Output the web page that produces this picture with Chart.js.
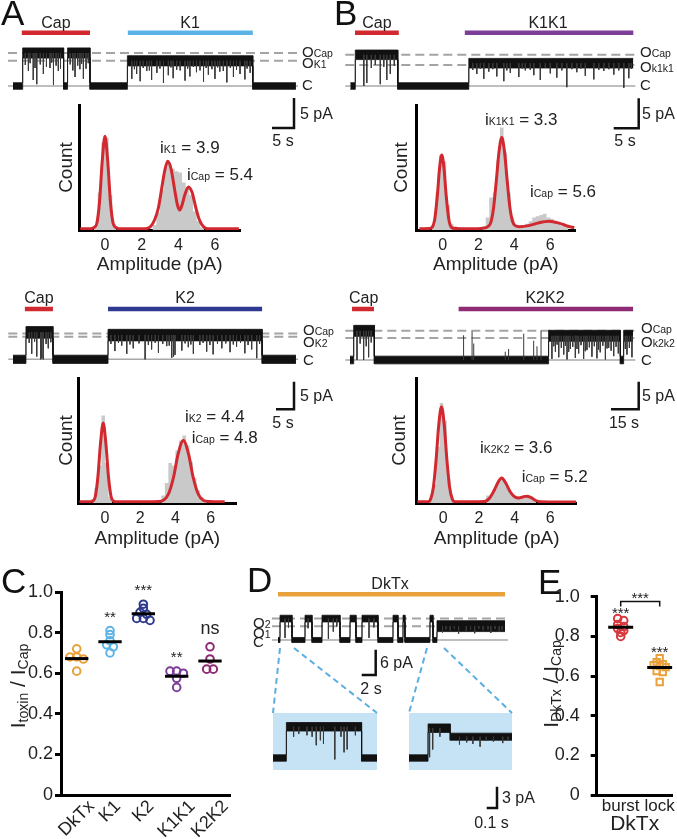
<!DOCTYPE html>
<html><head><meta charset="utf-8">
<script src="https://cdn.jsdelivr.net/npm/chart.js@4.4.1/dist/chart.umd.min.js"></script>
<style>
html,body{margin:0;padding:0;background:#fff;}
#fig{position:relative;width:677px;height:839px;overflow:hidden;font-family:"Liberation Sans",Arial,sans-serif;}
#fig canvas{position:absolute;}
#ov{position:absolute;left:0;top:0;}
.inset{position:absolute;background:#c6e3f5;}
</style></head><body>
<div id="fig">
<div class="inset" style="left:273px;top:713px;width:104px;height:57px"></div>
<div class="inset" style="left:409px;top:713px;width:103px;height:57px"></div>
<svg id="ov" width="677" height="839" font-family="Liberation Sans, Arial, sans-serif" fill="#222">
<g font-size="35" fill="#111">
<text x="1" y="25">A</text><text x="334" y="25">B</text>
<text x="1" y="593">C</text><text x="247" y="592">D</text><text x="538" y="594">E</text>
</g>
<g font-size="16" text-anchor="middle">
<text x="56" y="27.5">Cap</text><text x="190" y="27.5">K1</text>
<text x="377" y="27.5">Cap</text><text x="548" y="27.5">K1K1</text>
<text x="39" y="302.5">Cap</text><text x="185" y="302.5">K2</text>
<text x="363.7" y="302.5">Cap</text><text x="545" y="302.5">K2K2</text>
<text x="390" y="588.7">DkTx</text>
<text x="283" y="146">5 s</text><text x="625" y="146">5 s</text>
<text x="283" y="427.5">5 s</text><text x="624" y="427.5">15 s</text>
<text x="371" y="694">2 s</text><text x="491.5" y="827.5">0.1 s</text>
</g>
<g font-size="16">
<text x="300" y="119">5 pA</text><text x="642" y="119">5 pA</text>
<text x="300" y="401">5 pA</text><text x="642" y="401">5 pA</text>
<text x="380" y="668">6 pA</text><text x="502" y="802.5">3 pA</text>
</g>
<g font-size="15">
<text x="302" y="56.7">O<tspan font-size="10.5">Cap</tspan></text>
<text x="302" y="68.3">O<tspan font-size="10.5">K1</tspan></text>
<text x="302" y="90">C</text>
<text x="640" y="56.7">O<tspan font-size="10.5">Cap</tspan></text>
<text x="640" y="71.7">O<tspan font-size="10.5">k1k1</tspan></text>
<text x="640" y="90">C</text>
<text x="303" y="335">O<tspan font-size="10.5">Cap</tspan></text>
<text x="303" y="346.7">O<tspan font-size="10.5">K2</tspan></text>
<text x="303" y="365">C</text>
<text x="641" y="333.3">O<tspan font-size="10.5">Cap</tspan></text>
<text x="641" y="346.7">O<tspan font-size="10.5">k2k2</tspan></text>
<text x="641" y="365">C</text>
<text x="253" y="627.5">O<tspan font-size="10.5">2</tspan></text>
<text x="253" y="637.5">O<tspan font-size="10.5">1</tspan></text>
<text x="253" y="646.5">C</text>
</g>
<g font-size="17">
<text x="160" y="153">i<tspan font-size="10.5">K1</tspan> = 3.9</text>
<text x="187" y="180">i<tspan font-size="10.5">Cap</tspan> = 5.4</text>
<text x="485" y="124.5">i<tspan font-size="10.5">K1K1</tspan> = 3.3</text>
<text x="530" y="196.5">i<tspan font-size="10.5">Cap</tspan> = 5.6</text>
<text x="185" y="422">i<tspan font-size="10.5">K2</tspan> = 4.4</text>
<text x="191.7" y="442.5">i<tspan font-size="10.5">Cap</tspan> = 4.8</text>
<text x="480" y="453">i<tspan font-size="10.5">K2K2</tspan> = 3.6</text>
<text x="521.7" y="481.5">i<tspan font-size="10.5">Cap</tspan> = 5.2</text>
</g>
<text transform="translate(25,686) rotate(-90)" text-anchor="middle" font-size="21">I<tspan font-size="14" dy="3">toxin</tspan><tspan dy="-3"> / I</tspan><tspan font-size="14" dy="3">Cap</tspan></text>
<text transform="translate(558,684) rotate(-90)" text-anchor="middle" font-size="21">I<tspan font-size="14" dy="3">DkTx</tspan><tspan dy="-3"> / I</tspan><tspan font-size="14" dy="3">Cap</tspan></text>
<g stroke="#5aaee0" stroke-width="2" stroke-dasharray="6 4" fill="none">
<line x1="280" y1="648" x2="273" y2="713"/>
<line x1="294" y1="648" x2="377" y2="713"/>
<line x1="427" y1="648" x2="409" y2="713"/>
<line x1="444" y1="648" x2="512" y2="713"/>
</g>
</svg>
</div>
<script>
// ================= DATA =================
// Histograms (normalised counts) : bin centres (pA) and heights
const histA_bins = [-0.7,-0.5,-0.3,-0.1,0.1,0.3,0.5,0.7, 2.5,2.7,2.9,3.1,3.3,3.5,3.7,3.9,4.1,4.3,4.5,4.7,4.9,5.1,5.3,5.5];
const histA_counts = [0,0.04,0.3,0.7,0.74,0.28,0.05,0, 0,0.04,0.14,0.32,0.5,0.54,0.49,0.47,0.46,0.38,0.34,0.28,0.15,0.07,0.02,0];
const histB_bins = [-0.7,-0.5,-0.3,-0.1,0.1,0.3,0.5,0.7,0.9,1.1,1.3, 2.1,2.3,2.5,2.7,2.9,3.1,3.3,3.5,3.7,3.9,4.1,4.3,4.5,4.7,4.9,5.1,5.3,5.5,5.7,5.9,6.1,6.3,6.5,6.7,6.9,7.1];
const histB_counts = [0,0.04,0.3,0.6,0.55,0.2,0.05,0.03,0.02,0.01,0, 0,0.03,0.1,0.26,0.3,0.56,0.82,0.62,0.3,0.1,0.04,0.03,0.04,0.05,0.07,0.1,0.11,0.12,0.13,0.1,0.09,0.07,0.05,0.03,0.02,0];
const histK2_bins = [-0.9,-0.7,-0.5,-0.3,-0.1,0.1,0.3,0.5, 3.1,3.3,3.5,3.7,3.9,4.1,4.3,4.5,4.7,4.9,5.1,5.3,5.5,5.7,5.9];
const histK2_counts = [0,0.03,0.12,0.3,0.7,0.32,0.05,0, 0,0.06,0.16,0.32,0.3,0.42,0.5,0.54,0.46,0.33,0.2,0.1,0.05,0.02,0];
const histK2K2_bins = [-0.9,-0.7,-0.5,-0.3,-0.1,0.1,0.3,0.5,0.7, 2.3,2.5,2.7,2.9,3.1,3.3,3.5,3.7,3.9,4.1,4.3,4.5,4.7,4.9,5.1,5.3];
const histK2K2_counts = [0,0.04,0.15,0.45,0.8,0.66,0.2,0.04,0.01, 0,0.06,0.07,0.11,0.17,0.19,0.16,0.1,0.06,0.045,0.05,0.055,0.05,0.04,0.02,0];
// Gaussian fit curves
const fitA_x = [-1.35,-0.8,-0.6,-0.45,-0.3,-0.15,0,0.15,0.3,0.45,0.6,0.8,2.2,2.5,2.7,2.9,3.1,3.25,3.42,3.6,3.8,3.95,4.08,4.2,4.35,4.55,4.75,4.95,5.15,5.35,5.6,6.5,7.3];
const fitA_y = [0.01,0.01,0.02,0.05,0.22,0.55,0.75,0.55,0.22,0.05,0.02,0.01,0.01,0.03,0.08,0.17,0.34,0.47,0.55,0.49,0.32,0.2,0.16,0.2,0.28,0.345,0.3,0.18,0.08,0.03,0.01,0.01,0.01];
const fitB_x = [-1.3,-0.75,-0.6,-0.45,-0.3,-0.17,-0.05,0.07,0.2,0.35,0.5,0.7,1.5,2.3,2.55,2.7,2.85,3.0,3.15,3.3,3.45,3.6,3.75,3.9,4.05,4.3,4.8,5.3,5.95,6.5,7.0,7.35];
const fitB_y = [0.01,0.012,0.02,0.08,0.27,0.5,0.6,0.5,0.27,0.08,0.02,0.012,0.01,0.015,0.03,0.065,0.185,0.4,0.63,0.74,0.63,0.4,0.185,0.07,0.035,0.027,0.035,0.055,0.07,0.055,0.03,0.018];
const fitK2_x = [-1.45,-0.8,-0.7,-0.55,-0.4,-0.25,-0.1,0.05,0.2,0.35,0.5,0.6,2.5,3.0,3.3,3.6,3.9,4.15,4.45,4.75,5.0,5.3,5.6,5.9,6.8];
const fitK2_y = [0.01,0.01,0.015,0.05,0.21,0.48,0.64,0.48,0.21,0.05,0.015,0.01,0.01,0.012,0.02,0.07,0.21,0.39,0.5,0.39,0.21,0.07,0.02,0.012,0.01];
const fitK2K2_x = [-1.45,-0.85,-0.7,-0.55,-0.4,-0.25,-0.1,0.05,0.2,0.35,0.5,0.65,1.5,2.3,2.6,2.85,3.05,3.27,3.5,3.75,4.0,4.25,4.45,4.67,4.9,5.15,5.45,6.5,7.45];
const fitK2K2_y = [0.01,0.01,0.034,0.13,0.35,0.63,0.77,0.63,0.35,0.13,0.034,0.01,0.01,0.012,0.04,0.1,0.16,0.2,0.16,0.09,0.05,0.04,0.048,0.055,0.045,0.022,0.01,0.008,0.008];
const histTicks = [0, 2, 4, 6];

// Single-channel traces: segment boundaries (s), segment current (pA), flickers [t, lowest pA]
const trA_times = [0, 2.2, 11.5, 12.4, 17.5, 26.0, 54.5, 64.3];
const trA_levels = [0, 5.5, 0, 5.5, 0, 4.2, 0];
const trA_apps = [[2.0, 17.5], [26.1, 54.5]];
const trA_refs = [5.5, 4.2];
const trA_flicks = [[2.8,3.5],[3.5,2.5],[3.9,3.8],[4.6,1.0],[5.0,3.0],[5.4,0.3],[6.2,3.6],[6.9,2.0],[7.6,3.2],[8.4,3.0],[8.8,3.9],[9.2,0.2],[9.8,3.4],[10.3,2.5],[10.8,2.9],[13.0,3.6],[13.6,2.6],[14.1,1.5],[14.7,3.4],[15.2,2.8],[15.6,3.7],[16.0,1.2],[16.6,2.9],[17.1,3.8],
 [27.0,1.2],[27.6,2.8],[28.1,2.0],[28.9,0.8],[29.6,3.0],[30.4,2.5],[31.0,2.6],[31.5,1.0],[32.7,2.2],[33.4,2.9],[34.2,0.5],[35.3,1.8],[35.9,3.1],[36.4,1.3],[37.2,2.7],[38.0,2.6],[39.1,0.9],[39.7,2.9],[40.2,1.6],[41.0,3.2],[41.7,2.3],[42.5,2.6],[43.3,0.7],[43.9,3.0],[44.4,1.9],[45.2,2.8],[45.9,1.2],[46.5,3.1],[47.0,2.4],[47.8,2.5],[48.6,0.6],[49.4,3.0],[50.1,1.5],[50.8,2.7],[51.6,2.0],[52.7,1.1],[53.2,2.9],[53.9,2.2]];

const trB_times = [0, 1.0, 9.5, 23.7, 56.6];
const trB_levels = [0, 5.2, 0, 3.8];
const trB_apps = [[0.94, 9.7], [22.9, 56.6]];
const trB_refs = [5.2, 3.5];
const trB_flicks = [[2.7,0],[3.3,0.5],[4.2,3.0],[5.0,3.5],[6.0,0.3],[6.7,3.2],[7.3,1.0],[8.0,2.0],[8.8,3.4],
 [24.5,2.7],[25.3,2.0],[26.0,2.9],[26.7,1.2],[27.7,2.4],[28.5,2.8],[29.3,1.6],[30.7,0.8],[31.3,2.6],[32.0,2.2],[33.7,1.5],[34.4,2.9],[35.0,2.6],[36.0,2.7],[36.7,1.8],[38.0,1.0],[39.0,3.0],[40.0,2.1],[41.3,1.4],[42.3,2.6],[43.3,-0.2],[44.3,2.8],[45.3,2.3],[46.1,2.9],[47.0,1.7],[48.7,1.1],[49.7,2.7],[50.7,2.5],[51.7,2.8],[52.7,1.9],[53.7,2.6],[54.7,-0.3],[55.7,1.3],[56.2,2.9]];

const trK2_times = [0, 3.6, 11.1, 26.4, 69.2, 78.6];
const trK2_levels = [0, 4.9, 0, 4.4, 0];
const trK2_apps = [[3.3, 11.1], [26.4, 69.2]];
const trK2_refs = [4.7, 4.1];
const trK2_flicks = [[4.5,3.0],[5.2,1.0],[6.0,3.2],[6.6,0.5],[7.7,0],[8.0,0.2],[8.4,0],[9.2,2.8],[9.8,2.0],[10.5,3.1],
 [27.2,2.8],[28.3,1.5],[29.3,3.0],[30.2,2.5],[31.6,1.0],[32.5,2.7],[33.4,2.0],[35.0,2.9],[36.7,0],[37.6,2.6],[38.5,1.8],[39.5,3.0],[40.4,1.2],[41.6,2.8],[42.7,2.4],[43.4,2.5],[44.1,0.3],[44.6,0.5],[45.0,0.8],[46.9,1.6],[47.8,2.9],[48.7,2.2],[49.4,2.7],[50.1,1.0],[51.9,2.6],[52.8,3.0],[53.8,1.4],[54.7,2.6],[55.6,0.9],[56.8,2.8],[58.0,2.0],[59.1,2.9],[60.3,1.3],[61.2,2.7],[62.1,2.3],[63.2,3.0],[64.4,1.1],[65.3,2.6],[66.3,1.8],[67.7,0.2],[68.5,2.8]];

const trK2K2_times = [0, 2.0, 13.2, 107.7, 146.6, 148.4, 153.5];
const trK2K2_levels = [0, 5.3, 0, 4.4, 0, 4.4];
const trK2K2_apps = [[1.1, 13.0], [58.9, 153.5]];
const trK2K2_refs = [5.3, 4.0];
const trK2K2_flicks = [[3.8,0],[5.5,3.0],[7.4,0],[8.8,2.5],[10.1,0.5],[11.5,3.2],
 [109.5,0.2],[110.5,2.5],[111.4,1.5],[112.3,2.8],[113.2,0.5],[114.6,2.2],[115.9,1.0],[116.8,2.6],[117.7,0.1],[118.6,1.5],[119.5,2.0],[120.8,2.4],[122.2,0.4],[123.1,2.0],[124.0,1.2],[125.3,2.7],[126.7,0.2],[127.6,1.6],[128.5,1.8],[129.8,2.3],[131.2,0.6],[132.5,2.5],[133.9,0.3],[134.8,1.9],[135.7,1.4],[137.1,2.6],[138.5,0.1],[139.4,2.1],[140.3,2.2],[141.6,1.7],[143.0,0.7],[144.3,2.4],[145.5,1.2],[149.3,2.0],[150.2,1.0],[151.5,2.2],[152.9,0.5]];
const trK2K2_spikes = [[61.6,4.5],[66.2,5.2],[67.1,3.0],[84.2,1.5],[86.0,2.0],[94.2,4.8],[99.6,3.5],[101.4,2.5],[103.6,5.4]];

const trD_times = [0, 0.29, 2.0, 3.86, 4.86, 6.29, 8.86, 10.29, 11.14, 12.0, 14.29, 16.43, 17.14, 17.86, 18.14, 21.71, 22.14, 22.71, 32.43];
const trD_levels = [0, 5.1, 0, 5.1, 0, 5.1, 0, 5.1, 0, 5.1, 0, 5.1, 0, 5.1, 0, 5.1, 0, 3.3];
const trD_apps = [[0, 32.43]];
const trD_refs = [5.1, 3.3];
const trD_flicks = [[1.0,0.5],[1.5,3.0],[4.3,2.8],[7.2,0.3],[7.9,2.0],[8.4,3.2],[13.0,0.5],[13.7,3.0],
 [23.5,1.8],[24.0,2.5],[24.6,2.2],[25.2,2.6],[25.8,1.5],[26.9,2.0],[27.5,2.4],[28.1,1.6],[28.7,2.7],[29.3,2.3],[30.0,2.5],[30.4,1.7],[31.0,2.6],[31.6,2.0],[32.0,2.4]];

const insL_times = [0, 0.13, 0.86, 1.01];
const insL_levels = [0, 4.4, 0];
const insL_flicks = [[0.2,3.0],[0.25,3.4],[0.33,3.2],[0.38,3.0],[0.42,1.8],[0.46,2.5],[0.49,2.0],[0.6,-0.2],[0.66,3.0],[0.69,0.8],[0.72,1.2],[0.8,3.2]];
const insR_times = [0, 0.185, 0.4, 1.0];
const insR_levels = [0, 4.2, 3.0];
const insR_flicks = [[0.2,0.1],[0.23,1.2],[0.3,3.0],[0.49,1.9],[0.56,2.2],[0.62,2.0],[0.69,1.6],[0.75,2.4],[0.82,2.3],[0.91,2.1],[0.96,2.5]];

// Panel C : I_toxin / I_Cap
const cCats = ['DkTx', 'K1', 'K2', 'K1K1', 'K2K2'];
const cDkTx = [0.72, 0.68, 0.68, 0.67, 0.61];
const cK1 = [0.81, 0.79, 0.76, 0.74, 0.73, 0.70];
const cK2 = [0.94, 0.92, 0.90, 0.89, 0.87, 0.87, 0.86];
const cK1K1 = [0.61, 0.61, 0.60, 0.575, 0.53];
const cK2K2 = [0.73, 0.67, 0.62, 0.62];
const cSig = ['', '**', '***', '**', 'ns'];
// Panel E : I_DkTx / I_Cap
const eCats = ['burst', 'lock'];
const eBurst = [0.89, 0.88, 0.86, 0.85, 0.84, 0.83, 0.82, 0.80];
const eLock = [0.69, 0.67, 0.66, 0.655, 0.65, 0.645, 0.625, 0.62, 0.57];
const eSig = ['***', '***'];
const eBracketSig = '***';
const yTicks = [0, 0.2, 0.4, 0.6, 0.8, 1.0];

// ================= STYLE =================
const FONT = '"Liberation Sans", Arial, Helvetica, sans-serif';
const RED = '#d1292f', LBLUE = '#5db3e5', DBLUE = '#2e3a8f', PURPLE = '#7d3e98', MAGENTA = '#8e2b74', ORANGE = '#e9a23b';
Chart.defaults.font.family = FONT;
Chart.defaults.color = '#222';

const fig = document.getElementById('fig');
const ov = document.getElementById('ov');
function addCanvas(x, y, w, h) {
  const c = document.createElement('canvas');
  c.width = Math.round(w); c.height = Math.round(h);
  c.style.left = x + 'px'; c.style.top = y + 'px';
  c.style.width = Math.round(w) + 'px'; c.style.height = Math.round(h) + 'px';
  fig.insertBefore(c, ov);
  return c;
}
function baseOpts() {
  return {responsive: false, maintainAspectRatio: false, animation: false, devicePixelRatio: 1, events: [],
    layout: {autoPadding: false, padding: 0},
    plugins: {legend: {display: false}, tooltip: {enabled: false}, title: {display: false}},
    elements: {point: {radius: 0, hoverRadius: 0}, line: {tension: 0}}};
}

// ---------- traces ----------
function makeTrace(L, D) {
  const [bx, by, bw, bh] = L.box;
  const tOf = px => (px - L.x0) / L.pxs, iOf = py => (L.y0 - py) / L.pxa;
  const nz = lv => (L.noise[lv] !== undefined ? L.noise[lv] : L.noise.open);
  const ds = [];
  if (L.ref) {
    const r0 = tOf(L.ref[0]), r1 = tOf(L.ref[1]);
    ds.push({data: [{x: r0, y: 0}, {x: r1, y: 0}], borderColor: '#a8a8a8', borderWidth: 1.6, order: 20});
    (D.refs || []).forEach(r => ds.push({data: [{x: r0, y: r}, {x: r1, y: r}], borderColor: '#a4a4a4', borderWidth: 2, borderDash: [9, 5], order: 19}));
  }
  const up = [], lo = [];
  D.levels.forEach((lv, k) => {
    const n = nz(lv);
    up.push({x: D.times[k], y: lv + n}, {x: D.times[k + 1], y: lv + n});
    lo.push({x: D.times[k], y: lv - n}, {x: D.times[k + 1], y: lv - n});
  });
  const iu = ds.length;
  ds.push({data: up, borderColor: '#111', borderWidth: 0.8, backgroundColor: '#111', fill: {target: iu + 1}, order: 5});
  ds.push({data: lo, borderColor: '#111', borderWidth: 0.8, fill: false, order: 5});
  const levelAt = t => { for (let k = 0; k < D.levels.length; k++) if (t >= D.times[k] && t < D.times[k + 1]) return D.levels[k]; return 0; };
  const fl = [];
  (D.flicks || []).forEach(([t, d]) => fl.push({x: t, y: levelAt(t)}, {x: t, y: d}, {x: t, y: null}));
  (D.spikes || []).forEach(([t, h]) => fl.push({x: t, y: 0}, {x: t, y: h}, {x: t, y: null}));
  if (fl.length) ds.push({data: fl, borderColor: '#3a3a3a', borderWidth: 1, spanGaps: false, order: 4});
  (D.apps || []).forEach(([a, b], k) => ds.push({data: [{x: a, y: iOf(L.barY)}, {x: b, y: iOf(L.barY)}], borderColor: L.colors[k], borderWidth: 4.5, borderCapStyle: 'butt', order: 1}));
  if (L.sbar) {
    const t = tOf(L.sbar[0]), i = iOf(L.sbar[1]), [dt, di] = L.sbarLen;
    ds.push({data: [{x: t, y: i + di}, {x: t, y: i}, {x: t - dt, y: i}], borderColor: '#111', borderWidth: 2.5, borderJoinStyle: 'miter', order: 1});
  }
  ds.forEach(d => { d.pointRadius = 0; d.clip = false; });
  const o = baseOpts();
  o.scales = {x: {type: 'linear', display: false, min: tOf(bx), max: tOf(bx + bw)},
              y: {type: 'linear', display: false, min: iOf(by + bh), max: iOf(by)}};
  new Chart(addCanvas(bx, by, bw, bh), {type: 'line', data: {datasets: ds}, options: o});
}

makeTrace({box: [6, 26, 296, 106], x0: 13, pxs: 4.4, y0: 86, pxa: 6, ref: [8, 298], barY: 32.7, sbar: [294, 128], sbarLen: [5, 5], noise: {0: 0.55, open: 0.85}, colors: [RED, LBLUE]},
  {times: trA_times, levels: trA_levels, apps: trA_apps, refs: trA_refs, flicks: trA_flicks});
makeTrace({box: [343, 26, 298, 106], x0: 350.3, pxs: 5, y0: 86, pxa: 6, ref: [345.3, 635.3], barY: 32.7, sbar: [638.7, 128.3], sbarLen: [5, 5], noise: {0: 0.55, open: 0.8}, colors: [RED, PURPLE]},
  {times: trB_times, levels: trB_levels, apps: trB_apps, refs: trB_refs, flicks: trB_flicks});
makeTrace({box: [6, 300, 296, 112], x0: 13, pxs: 3.6, y0: 359.3, pxa: 5.5, ref: [8.3, 298], barY: 309, sbar: [294, 409.3], sbarLen: [5, 5], noise: {0: 0.75, open: 1.05}, colors: [RED, DBLUE]},
  {times: trK2_times, levels: trK2_levels, apps: trK2_apps, refs: trK2_refs, flicks: trK2_flicks});
makeTrace({box: [343, 300, 298, 112], x0: 350, pxs: 1.844, y0: 360, pxa: 5.5, ref: [345.3, 635.3], barY: 309, sbar: [638.7, 409.3], sbarLen: [15, 5], noise: {0: 0.7, open: 1.0}, colors: [RED, MAGENTA]},
  {times: trK2K2_times, levels: trK2K2_levels, apps: trK2K2_apps, refs: trK2K2_refs, flicks: trK2K2_flicks, spikes: trK2K2_spikes});
makeTrace({box: [270, 588, 240, 92], x0: 278, pxs: 7, y0: 640, pxa: 4.2, ref: [272, 508], barY: 594.3, sbar: [375.7, 675], sbarLen: [2, 6], noise: {0: 0.6, 3.3: 1.3, open: 0.8}, colors: [ORANGE]},
  {times: trD_times, levels: trD_levels, apps: trD_apps, refs: trD_refs, flicks: trD_flicks});
makeTrace({box: [273, 713, 104, 57], x0: 273, pxs: 103, y0: 758, pxa: 7.1, noise: {0: 0.45, open: 0.6}},
  {times: insL_times, levels: insL_levels, flicks: insL_flicks});
makeTrace({box: [409, 713, 104, 100], x0: 409, pxs: 103, y0: 758, pxa: 7.1, sbar: [497, 808], sbarLen: [0.1, 3], noise: {0: 0.45, 3: 0.5, open: 0.6}},
  {times: insR_times, levels: insR_levels, flicks: insR_flicks});

// ---------- histograms ----------
function makeHist(H, bins, counts, fx, fy) {
  const [bx, by, bw, bh] = H.box, A = H.area;
  const o = baseOpts();
  o.layout.padding = {left: 0, top: A.t - by, right: bx + bw - A.r, bottom: 0};
  o.scales = {
    x: {type: 'linear', min: H.xr[0], max: H.xr[1],
        afterBuildTicks: s => { s.ticks = histTicks.map(v => ({value: v})); },
        ticks: {font: {size: 16}, color: '#222', padding: 6, maxRotation: 0, autoSkip: false},
        grid: {display: false, drawTicks: false}, border: {display: true, width: 3, color: '#000'},
        title: {display: true, text: 'Amplitude (pA)', font: {size: 19}, color: '#222', padding: {top: 0, bottom: 4}},
        afterFit: s => { s.height = by + bh - A.b; }},
    y: {type: 'linear', min: 0, max: 1, ticks: {display: false},
        grid: {display: false, drawTicks: false}, border: {display: true, width: 3, color: '#000'},
        title: {display: true, text: 'Count', font: {size: 19}, color: '#222', padding: {top: 4, bottom: 0}},
        afterFit: s => { s.width = A.l - bx; }}
  };
  const ds = [
    {data: fx.map((x, i) => ({x, y: fy[i]})), borderColor: RED, borderWidth: 3, cubicInterpolationMode: 'monotone', fill: false, pointRadius: 0, order: 0},
    {data: bins.map((x, i) => ({x, y: counts[i]})), stepped: 'middle', fill: 'origin', backgroundColor: '#c9c9c9', borderColor: 'rgba(0,0,0,0)', borderWidth: 0, pointRadius: 0, order: 1}
  ];
  new Chart(addCanvas(bx, by, bw, bh), {type: 'line', data: {datasets: ds}, options: o});
}
makeHist({box: [51, 100, 194, 180], area: {l: 79.3, t: 105, r: 240, b: 230}, xr: [-1.4, 7.36]}, histA_bins, histA_counts, fitA_x, fitA_y);
makeHist({box: [386, 100, 194, 180], area: {l: 416.7, t: 105, r: 575, b: 230}, xr: [-1.45, 7.39]}, histB_bins, histB_counts, fitB_x, fitB_y);
makeHist({box: [51, 373, 191, 181], area: {l: 78, t: 378, r: 236.7, b: 503}, xr: [-1.53, 7.48]}, histK2_bins, histK2_counts, fitK2_x, fitK2_y);
makeHist({box: [384, 373, 198, 181], area: {l: 416.7, t: 378, r: 576.7, b: 503}, xr: [-1.49, 7.48]}, histK2K2_bins, histK2K2_counts, fitK2K2_x, fitK2K2_y);

// ---------- scatter panels ----------
function swarm(vals, center, step, tol) {
  const rows = [];
  [...vals].sort((a, b) => b - a).forEach(v => { const r = rows[rows.length - 1]; if (r && Math.abs(r[0] - v) <= tol + 1e-9) r.push(v); else rows.push([v]); });
  const pts = [];
  rows.forEach(r => r.forEach((v, k) => pts.push({x: center + (k - (r.length - 1) / 2) * step, y: v})));
  return pts;
}
const mean = a => a.reduce((s, v) => s + v, 0) / a.length;
function yAxis(width, pad) {
  return {type: 'linear', min: 0, max: 1,
    afterBuildTicks: s => { s.ticks = yTicks.map(v => ({value: v})); },
    ticks: {font: {size: 18}, color: '#222', padding: pad, callback: v => (v === 0 ? '0' : v.toFixed(1))},
    grid: {display: true, drawOnChartArea: false, drawTicks: true, tickLength: 6, tickWidth: 3, tickColor: '#000'},
    border: {display: true, width: 3, color: '#000'},
    afterFit: s => { s.width = width; }};
}

// Panel C
const cGroups = [cDkTx, cK1, cK2, cK1K1, cK2K2];
const cColors = [ORANGE, LBLUE, DBLUE, PURPLE, MAGENTA];
(function () {
  const ds = [];
  cGroups.forEach((vals, i) => {
    ds.push({type: 'scatter', data: swarm(vals, i + 1, 0.2, 0.012), borderColor: cColors[i], backgroundColor: 'rgba(255,255,255,0)',
      pointRadius: 3.8, pointBorderWidth: 2, pointStyle: 'circle', order: 1});
    const m = mean(vals);
    ds.push({type: 'line', data: [{x: i + 1 - 0.35, y: m}, {x: i + 1 + 0.35, y: m}], borderColor: '#000', borderWidth: 3, pointRadius: 0, showLine: true, order: 0});
  });
  const o = baseOpts();
  o.layout.padding = {left: 0, top: 17, right: 10, bottom: 0};
  o.scales = {
    x: {type: 'linear', min: 0.529, max: 5.6, ticks: {display: false}, grid: {display: false, drawTicks: false},
        border: {display: true, width: 3, color: '#000'}, afterFit: s => { s.height = 44; }},
    y: yAxis(61, 2)
  };
  const plug = {id: 'cLabels', afterDraw(chart) {
    const {ctx, chartArea, scales: {x, y}} = chart;
    ctx.save(); ctx.fillStyle = '#222';
    ctx.font = '18px ' + FONT;
    cCats.forEach((lab, i) => {
      const px = x.getPixelForValue(i + 1);
      const w = ctx.measureText(lab).width;
      const py = chartArea.bottom + 4 + (w + 13) * 0.354;
      ctx.save(); ctx.translate(px, py); ctx.rotate(-Math.PI / 4);
      ctx.textAlign = 'center'; ctx.textBaseline = 'middle'; ctx.fillText(lab, 0, 0); ctx.restore();
    });
    ctx.textAlign = 'center'; ctx.textBaseline = 'alphabetic';
    cGroups.forEach((vals, i) => {
      const s = cSig[i]; if (!s) return;
      const px = x.getPixelForValue(i + 1);
      const cy = y.getPixelForValue(Math.max(...vals)) - 17;
      if (s === 'ns') { ctx.font = '18px ' + FONT; ctx.fillText(s, px, cy + 0.26 * 18); }
      else { ctx.font = '15px ' + FONT; ctx.fillText(s, px, cy + 0.55 * 15); }
    });
    ctx.restore();
  }};
  new Chart(addCanvas(0, 575, 240, 264), {type: 'scatter', data: {datasets: ds}, options: o, plugins: [plug]});
})();

// Panel E
(function () {
  const ds = [
    {type: 'scatter', data: swarm(eBurst, 1, 0.155, 0.012), borderColor: '#d8373e', backgroundColor: 'rgba(255,255,255,0)', pointRadius: 3.8, pointBorderWidth: 2, pointStyle: 'circle', order: 1},
    {type: 'scatter', data: swarm(eLock, 2, 0.155, 0.012), borderColor: ORANGE, backgroundColor: 'rgba(255,255,255,0)', pointRadius: 4.5, pointBorderWidth: 2, pointStyle: 'rect', order: 1},
    {type: 'line', data: [{x: 1 - 0.32, y: mean(eBurst)}, {x: 1 + 0.32, y: mean(eBurst)}], borderColor: '#000', borderWidth: 3, pointRadius: 0, showLine: true, order: 0},
    {type: 'line', data: [{x: 2 - 0.32, y: mean(eLock)}, {x: 2 + 0.32, y: mean(eLock)}], borderColor: '#000', borderWidth: 3, pointRadius: 0, showLine: true, order: 0}
  ];
  const o = baseOpts();
  o.layout.padding = {left: 0, top: 16.7, right: 4, bottom: 0};
  o.scales = {
    x: {type: 'linear', min: 0.385, max: 2.333,
        afterBuildTicks: s => { s.ticks = [{value: 1}, {value: 2}]; },
        ticks: {font: {size: 17}, color: '#222', padding: 1.5, maxRotation: 0, autoSkip: false, callback: (v, i) => eCats[i]},
        grid: {display: false, drawTicks: false}, border: {display: true, width: 3, color: '#000'},
        title: {display: true, text: 'DkTx', font: {size: 21}, color: '#222', padding: {top: 0, bottom: 2}},
        afterFit: s => { s.height = 44; }},
    y: yAxis(76.7, 11)
  };
  const plug = {id: 'eMarks', afterDraw(chart) {
    const {ctx, scales: {x, y}} = chart;
    const x1 = x.getPixelForValue(1), x2 = x.getPixelForValue(2);
    const bTop = y.getPixelForValue(Math.max(...eBurst)) - 9;
    const lTop = y.getPixelForValue(Math.max(...eLock)) - 9;
    ctx.save(); ctx.fillStyle = '#222'; ctx.font = '15px ' + FONT; ctx.textAlign = 'center'; ctx.textBaseline = 'alphabetic';
    ctx.fillText(eSig[0], x1, bTop + 8.25);
    ctx.fillText(eSig[1], x2, lTop + 8.25);
    const byy = bTop - 8;
    ctx.strokeStyle = '#111'; ctx.lineWidth = 1.5; ctx.beginPath();
    ctx.moveTo(x1, byy + 5); ctx.lineTo(x1, byy); ctx.lineTo(x2, byy); ctx.lineTo(x2, byy + 5); ctx.stroke();
    ctx.fillText(eBracketSig, (x1 + x2) / 2, byy - 7 + 8.25);
    ctx.restore();
  }};
  new Chart(addCanvas(520, 575, 157, 264), {type: 'scatter', data: {datasets: ds}, options: o, plugins: [plug]});
})();
</script>
</body></html>
